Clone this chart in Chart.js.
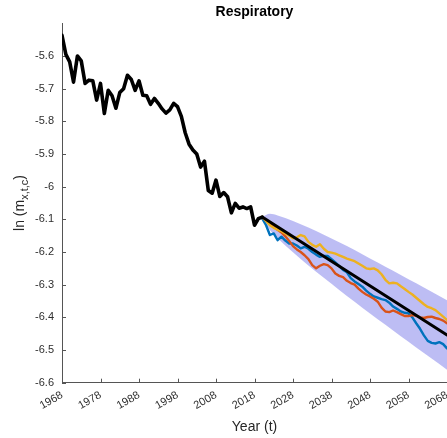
<!DOCTYPE html>
<html>
<head>
<meta charset="utf-8">
<script src="https://cdn.jsdelivr.net/npm/chart.js@4.4.1/dist/chart.umd.min.js"></script>
<style>
  body { margin: 0; background: #fff; }
  #wrap { width: 447px; height: 438px; }
</style>
</head>
<body>
<div id="wrap"><canvas id="chart" width="447" height="438"></canvas></div>
<script>
// observed ln death rate, one value per year from 1968 to 2020
const histStart = 1968;
const histVals = [
  -5.537, -5.595, -5.618, -5.680, -5.600, -5.615, -5.684, -5.674, -5.676, -5.735,
  -5.684, -5.776, -5.705, -5.722, -5.760, -5.712, -5.700, -5.659, -5.672, -5.705,
  -5.676, -5.720, -5.722, -5.748, -5.730, -5.745, -5.762, -5.775, -5.765, -5.745,
  -5.755, -5.785, -5.835, -5.870, -5.888, -5.900, -5.940, -5.922, -6.012, -6.020,
  -5.980, -6.030, -6.018, -6.031, -6.080, -6.051, -6.066, -6.062, -6.067, -6.062,
  -6.118, -6.098, -6.093
];

// three simulated paths, one value per year from 2020 to 2068
const simStart = 2020;
const pathBlue = [
  -6.097, -6.118, -6.148, -6.143, -6.164, -6.153, -6.165, -6.174, -6.174, -6.180,
  -6.189, -6.184, -6.190, -6.200, -6.208, -6.215, -6.212, -6.212, -6.222, -6.232,
  -6.243, -6.255, -6.262, -6.280, -6.290, -6.298, -6.306, -6.318, -6.328, -6.336,
  -6.340, -6.344, -6.347, -6.355, -6.367, -6.374, -6.382, -6.386, -6.388, -6.400,
  -6.418, -6.435, -6.455, -6.472, -6.478, -6.480, -6.476, -6.482, -6.495
];
const pathOrange = [
  -6.095, -6.103, -6.112, -6.122, -6.132, -6.140, -6.152, -6.166, -6.182, -6.192,
  -6.200, -6.210, -6.222, -6.240, -6.250, -6.242, -6.237, -6.240, -6.250, -6.266,
  -6.273, -6.277, -6.288, -6.295, -6.300, -6.312, -6.322, -6.330, -6.336, -6.343,
  -6.352, -6.370, -6.382, -6.384, -6.379, -6.384, -6.390, -6.396, -6.396, -6.393,
  -6.395, -6.400, -6.402, -6.399, -6.398, -6.402, -6.405, -6.410, -6.418
];
const pathYellow = [
  -6.092, -6.105, -6.118, -6.126, -6.132, -6.136, -6.143, -6.150, -6.158, -6.155,
  -6.148, -6.152, -6.169, -6.178, -6.184, -6.176, -6.190, -6.200, -6.202, -6.205,
  -6.210, -6.215, -6.220, -6.224, -6.228, -6.235, -6.242, -6.250, -6.252, -6.250,
  -6.256, -6.268, -6.285, -6.296, -6.294, -6.296, -6.305, -6.313, -6.322, -6.330,
  -6.340, -6.350, -6.360, -6.368, -6.372, -6.378, -6.388, -6.398, -6.408
];

// central projection
const meanYears = [2020, 2068];
const meanVals = [-6.093, -6.454];

// prediction interval
const bandYears = [2020, 2022, 2024, 2028, 2032, 2036, 2040, 2044, 2048, 2052, 2056, 2060, 2064, 2068];
const bandUpper = [-6.093, -6.083, -6.088, -6.105, -6.125, -6.147, -6.170, -6.194, -6.220, -6.245, -6.270, -6.296, -6.322, -6.348];
const bandLower = [-6.093, -6.133, -6.158, -6.201, -6.241, -6.279, -6.316, -6.352, -6.388, -6.423, -6.458, -6.492, -6.526, -6.560];

const xTicks = [1968, 1978, 1988, 1998, 2008, 2018, 2028, 2038, 2048, 2058, 2068];
const yTicks = [-6.6, -6.5, -6.4, -6.3, -6.2, -6.1, -6, -5.9, -5.8, -5.7, -5.6];

const FONT = 'Arial, Helvetica, sans-serif';
const TXT = '#262626';
const TICK = '#2e2e2e';
const AXIS = '#555555';

function seq(start, vals) {
  return vals.map((v, i) => ({ x: start + i, y: v }));
}
function pairs(xs, ys) {
  return xs.map((x, i) => ({ x: x, y: ys[i] }));
}

// short tick marks pointing into the plot
const innerTicks = {
  id: 'innerTicks',
  beforeDatasetsDraw(chart) {
    const ctx = chart.ctx;
    const a = chart.chartArea;
    const xs = chart.scales.x, ys = chart.scales.y;
    ctx.save();
    ctx.strokeStyle = AXIS;
    ctx.lineWidth = 1;
    ctx.beginPath();
    xTicks.forEach(t => {
      const px = Math.round(xs.getPixelForValue(t)) + 0.5;
      ctx.moveTo(px, a.bottom);
      ctx.lineTo(px, a.bottom - 4);
    });
    yTicks.forEach(t => {
      const py = Math.round(ys.getPixelForValue(t)) + 0.5;
      ctx.moveTo(a.left, py);
      ctx.lineTo(a.left + 4, py);
    });
    ctx.stroke();
    ctx.restore();
  }
};

// y axis title with subscript: ln (m_{x,t,c})
const yTitle = {
  id: 'yTitle',
  afterDraw(chart) {
    const ctx = chart.ctx;
    const a = chart.chartArea;
    const fMain = '14px ' + FONT, fSub = '11px ' + FONT;
    ctx.save();
    ctx.fillStyle = TXT;
    ctx.textBaseline = 'alphabetic';
    ctx.textAlign = 'left';
    ctx.font = fMain;
    const w1 = ctx.measureText('ln (m').width;
    const w3 = ctx.measureText(')').width;
    ctx.font = fSub;
    const w2 = ctx.measureText('x,t,c').width;
    const total = w1 + w2 + w3;
    ctx.translate(23.5, (a.top + a.bottom) / 2);
    ctx.rotate(-Math.PI / 2);
    let x = -total / 2;
    ctx.font = fMain;
    ctx.fillText('ln (m', x, 0);
    x += w1;
    ctx.font = fSub;
    ctx.fillText('x,t,c', x, 4);
    x += w2;
    ctx.font = fMain;
    ctx.fillText(')', x, 0);
    ctx.restore();
  }
};

const lineBase = { pointRadius: 0, fill: false, borderJoinStyle: 'round', borderCapStyle: 'round' };

new Chart(document.getElementById('chart'), {
  type: 'line',
  data: {
    datasets: [
      Object.assign({}, lineBase, { data: pairs(meanYears, meanVals), borderColor: '#000000', borderWidth: 3 }),
      Object.assign({}, lineBase, { data: seq(histStart, histVals), borderColor: '#000000', borderWidth: 3.6 }),
      Object.assign({}, lineBase, { data: seq(simStart, pathYellow), borderColor: '#EDB120', borderWidth: 2.4 }),
      Object.assign({}, lineBase, { data: seq(simStart, pathOrange), borderColor: '#D95319', borderWidth: 2.4 }),
      Object.assign({}, lineBase, { data: seq(simStart, pathBlue), borderColor: '#0072BD', borderWidth: 2.4 }),
      { data: pairs(bandYears, bandUpper), borderWidth: 0, pointRadius: 0, fill: '+1',
        backgroundColor: 'rgba(50, 50, 220, 0.32)', cubicInterpolationMode: 'monotone' },
      { data: pairs(bandYears, bandLower), borderWidth: 0, pointRadius: 0, fill: false,
        cubicInterpolationMode: 'monotone' }
    ]
  },
  options: {
    responsive: false,
    animation: false,
    events: [],
    layout: { padding: 0 },
    plugins: {
      legend: { display: false },
      tooltip: { enabled: false },
      title: {
        display: true,
        text: 'Respiratory',
        fullSize: false,
        color: '#000000',
        font: { family: FONT, size: 14, weight: 'bold' },
        padding: { top: 4, bottom: 2.5 }
      }
    },
    scales: {
      x: {
        type: 'linear',
        min: 1968,
        max: 2068,
        afterBuildTicks: s => { s.ticks = xTicks.map(v => ({ value: v })); },
        afterFit: s => { s.paddingRight = 0; s.height = 55.3; },
        grid: { display: false, drawTicks: false },
        border: { display: true, color: AXIS, width: 1 },
        ticks: {
          autoSkip: false,
          minRotation: 30,
          maxRotation: 30,
          padding: 6,
          color: TICK,
          font: { family: FONT, size: 11 },
          callback: v => String(v)
        },
        title: {
          display: true,
          text: 'Year (t)',
          color: TXT,
          font: { family: FONT, size: 14 },
          padding: { top: 0, bottom: 2 }
        }
      },
      y: {
        type: 'linear',
        min: -6.6,
        max: -5.5,
        afterBuildTicks: s => { s.ticks = yTicks.map(v => ({ value: v })); },
        afterFit: s => { s.width = 62; },
        grid: { display: false, drawTicks: false },
        border: { display: true, color: AXIS, width: 1 },
        ticks: {
          padding: 8,
          color: TICK,
          font: { family: FONT, size: 11 },
          callback: v => String(Math.round(v * 10) / 10)
        }
      }
    }
  },
  plugins: [innerTicks, yTitle]
});
</script>
</body>
</html>
